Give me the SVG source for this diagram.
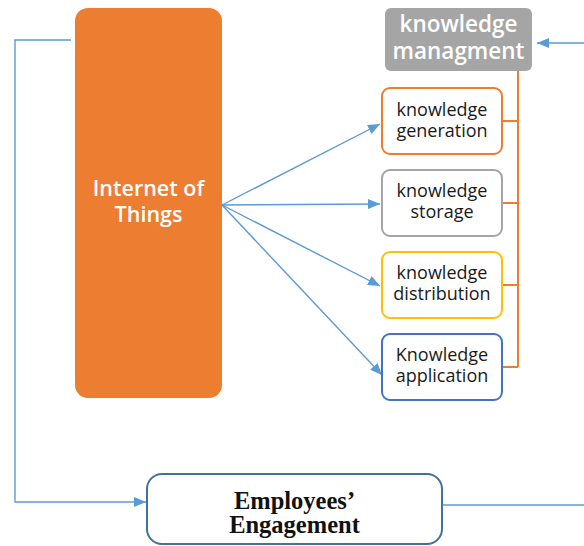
<svg xmlns="http://www.w3.org/2000/svg" width="584" height="546" viewBox="0 0 584 546">
  <style>
    .sans { font-family: "Open Sans", "Noto Sans", "DejaVu Sans", sans-serif; text-anchor: middle; }
    .white { fill: #ffffff; font-weight: 600; }
    .dark { fill: #1a1a1a; font-size: 18px; font-weight: 500; }
    .card { fill: #ffffff; stroke-width: 2; }
    .link { fill: none; stroke: #5B9BD5; stroke-width: 1.4; }
    .bracket { fill: none; stroke: #ED7D31; stroke-width: 2; }
    .serif { font-family: "Liberation Serif", "Times New Roman", serif; font-weight: bold; font-size: 24.5px; fill: #111111; text-anchor: middle; }
  </style>
  <defs>
    <marker id="arrow" markerUnits="userSpaceOnUse" markerWidth="12" markerHeight="10" refX="12" refY="5" orient="auto">
      <path d="M0,0 L12,5 L0,10 Z" fill="#5B9BD5"/>
    </marker>
  </defs>

  <rect width="584" height="546" fill="#ffffff"/>

  <!-- connectors -->
  <g id="connectors">
    <path class="link" d="M71,40 H15 V502 H146" marker-end="url(#arrow)"/>
    <path class="link" d="M584,43 H537" marker-end="url(#arrow)"/>
    <path class="link" d="M442,505 H584"/>
    <path class="link" d="M222,205 L380,124" marker-end="url(#arrow)"/>
    <path class="link" d="M222,205 L380,204" marker-end="url(#arrow)"/>
    <path class="link" d="M222,205 L380,286" marker-end="url(#arrow)"/>
    <path class="link" d="M222,205 L382,375" marker-end="url(#arrow)"/>
    <path class="bracket" d="M518,71 V367 M502,121 H518 M502,203 H518 M502,285 H518 M502,367 H518"/>
  </g>

  <!-- Internet of Things -->
  <g id="iot">
    <rect x="75" y="8" width="147" height="390" rx="13" fill="#ED7D31"/>
    <text class="sans white" font-size="21.5" x="148.5" y="196">Internet of</text>
    <text class="sans white" font-size="21.5" x="148.5" y="222">Things</text>
  </g>

  <!-- knowledge managment -->
  <g id="km">
    <rect x="385" y="8" width="147" height="63" rx="6" fill="#A5A5A5"/>
    <text class="sans white" font-size="22.5" x="458.5" y="32">knowledge</text>
    <text class="sans white" font-size="22.5" x="458.5" y="59">managment</text>
  </g>

  <g id="generation">
    <rect class="card" x="382" y="88" width="120" height="66" rx="8" stroke="#ED7D31"/>
    <text class="sans dark" x="442" y="116">knowledge</text>
    <text class="sans dark" x="442" y="137">generation</text>
  </g>

  <g id="storage">
    <rect class="card" x="382" y="170" width="120" height="66" rx="8" stroke="#A5A5A5"/>
    <text class="sans dark" x="442" y="197">knowledge</text>
    <text class="sans dark" x="442" y="218">storage</text>
  </g>

  <g id="distribution">
    <rect class="card" x="382" y="252" width="120" height="66" rx="8" stroke="#FFC000"/>
    <text class="sans dark" x="442" y="279">knowledge</text>
    <text class="sans dark" x="442" y="300">distribution</text>
  </g>

  <g id="application">
    <rect class="card" x="382" y="334" width="120" height="66" rx="8" stroke="#4472C4"/>
    <text class="sans dark" x="442" y="361">Knowledge</text>
    <text class="sans dark" x="442" y="382">application</text>
  </g>

  <!-- Employees' Engagement -->
  <g id="engagement">
    <rect x="147" y="474" width="295" height="70" rx="15" fill="#ffffff" stroke="#41719C" stroke-width="2"/>
    <text class="serif" x="294.5" y="509">Employees’</text>
    <text class="serif" x="294.5" y="533">Engagement</text>
  </g>
</svg>
